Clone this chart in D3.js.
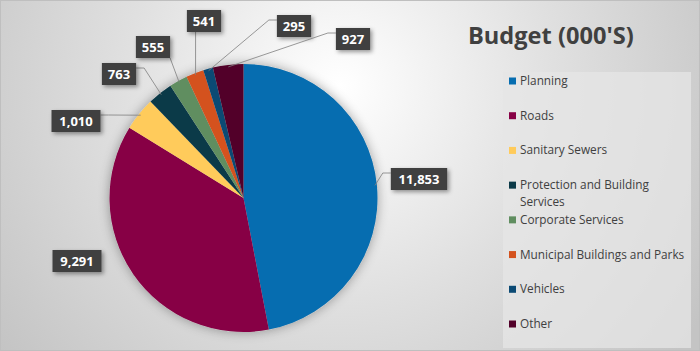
<!DOCTYPE html>
<html>
<head>
<meta charset="utf-8">
<script src="https://cdn.jsdelivr.net/npm/d3@7"></script>
<style>
  body { margin: 0; }
  svg { display: block; font-family: "Open Sans", "DejaVu Sans", sans-serif; }
</style>
</head>
<body>
<svg id="chart"></svg>
<script>
const categories = ["Planning", "Roads", "Sanitary Sewers", "Protection and Building Services",
  "Corporate Services", "Municipal Buildings and Parks", "Vehicles", "Other"];
const values = [11853, 9291, 1010, 763, 555, 541, 295, 927];
const colors = ["#066db0", "#870045", "#ffcb5b", "#0b3a48", "#608e60", "#d4521e", "#0b4a74", "#520029"];
const legendLines = [["Planning"], ["Roads"], ["Sanitary Sewers"], ["Protection and Building", "Services"],
  ["Corporate Services"], ["Municipal Buildings and Parks"], ["Vehicles"], ["Other"]];
// label box centres
const labelPos = [[419, 179], [77, 261], [76, 121], [119, 74], [153, 47], [204, 21], [294, 26], [353, 39]];

let width = 700, height = 351;
let cx = 243.5, cy = 198, r = 134;

let svg = d3.select("#chart").attr("width", width).attr("height", height);
let defs = svg.append("defs");

let bg = defs.append("radialGradient").attr("id", "bg")
  .attr("gradientUnits", "userSpaceOnUse")
  .attr("cx", 340).attr("cy", 85).attr("r", 430);
bg.append("stop").attr("offset", "0").attr("stop-color", "#ffffff");
bg.append("stop").attr("offset", "0.5").attr("stop-color", "#e0e0e0");
bg.append("stop").attr("offset", "1").attr("stop-color", "#c4c4c4");

let shadow = defs.append("filter").attr("id", "shadow")
  .attr("x", "-30%").attr("y", "-30%").attr("width", "160%").attr("height", "160%");
shadow.append("feDropShadow").attr("dx", 2).attr("dy", 2).attr("stdDeviation", 2)
  .attr("flood-color", "#000").attr("flood-opacity", 0.4);

let glow = defs.append("filter").attr("id", "glow")
  .attr("x", "-20%").attr("y", "-20%").attr("width", "140%").attr("height", "140%");
glow.append("feGaussianBlur").attr("in", "SourceAlpha").attr("stdDeviation", 6);
glow.append("feComponentTransfer").append("feFuncA").attr("type", "linear").attr("slope", 0.35);
let gm = glow.append("feMerge");
gm.append("feMergeNode");
gm.append("feMergeNode").attr("in", "SourceGraphic");

svg.append("rect").attr("width", width).attr("height", height).attr("fill", "url(#bg)");
svg.append("rect").attr("x", 0.5).attr("y", 0.5).attr("width", width - 1).attr("height", height - 1)
  .attr("fill", "none").attr("stroke", "#bfbfbf");

let pie = d3.pie().sort(null).value(d => d)(values);
let arc = d3.arc().innerRadius(0).outerRadius(r);

let body = svg.append("g").attr("transform", `translate(${cx},${cy})`);
body.append("circle").attr("r", r).attr("fill", "#ccc").attr("filter", "url(#glow)");
body.selectAll(".slice").data(pie).enter().append("path")
  .attr("class", "slice")
  .attr("d", arc)
  .attr("fill", (d, i) => colors[i]);

// data labels with leader lines
let edge = d3.arc().innerRadius(r - 2).outerRadius(r - 2);
let fmt = d3.format(",");
let labels = svg.append("g");
pie.forEach((d, i) => {
  let c = edge.centroid(d);
  let px = cx + c[0], py = cy + c[1];
  let [lx, ly] = labelPos[i];
  let text = fmt(values[i]);
  let w = text.length * 7.4 + 12, h = 22;
  let bx = lx - w / 2, by = ly - h / 2;
  let pts;
  if (i == 4) {
    pts = [[bx + w, by + h], [px, py]];
  } else if (px > lx + w / 2) {
    pts = [[bx + w, by + 5], [bx + w + 8, by + 5], [px, py]];
  } else if (px < bx) {
    pts = [[bx, by + 5], [bx - 8, by + 5], [px, py]];
  } else {
    pts = [[Math.max(bx + 6, Math.min(bx + w - 6, px)), by + h], [px, py]];
  }
  if (i !== 1) {
    labels.append("path").attr("d", d3.line()(pts))
      .attr("fill", "none").attr("stroke", "#7f7f7f").attr("stroke-width", 0.8);
  }
  labels.append("rect").attr("x", bx).attr("y", by).attr("width", w).attr("height", h)
    .attr("fill", "#404040").attr("filter", "url(#shadow)");
  labels.append("text").attr("x", lx).attr("y", ly + 4.5).attr("text-anchor", "middle")
    .attr("fill", "#fff").attr("font-size", 13).attr("font-weight", "bold").text(text);
});

svg.append("text").attr("x", 468).attr("y", 44).attr("fill", "#404040")
  .attr("font-size", 23.6).attr("font-weight", "bold").text("Budget (000'S)");

let legend = svg.append("g");
legend.append("rect").attr("x", 503).attr("y", 72).attr("width", 188).attr("height", 276)
  .attr("fill", "#e6e6e6").attr("opacity", 0.75);
let rowY = d3.scaleLinear().domain([0, 7]).range([81, 324]);
categories.forEach((c, i) => {
  let y = rowY(i);
  legend.append("rect").attr("x", 509).attr("y", y - 3.5).attr("width", 7).attr("height", 7)
    .attr("fill", colors[i]);
  legendLines[i].forEach((t, j) => {
    legend.append("text").attr("x", 520).attr("y", y + 4 + j * 17).attr("fill", "#404040")
      .attr("font-size", 11.8).text(t);
  });
});
</script>
</body>
</html>
